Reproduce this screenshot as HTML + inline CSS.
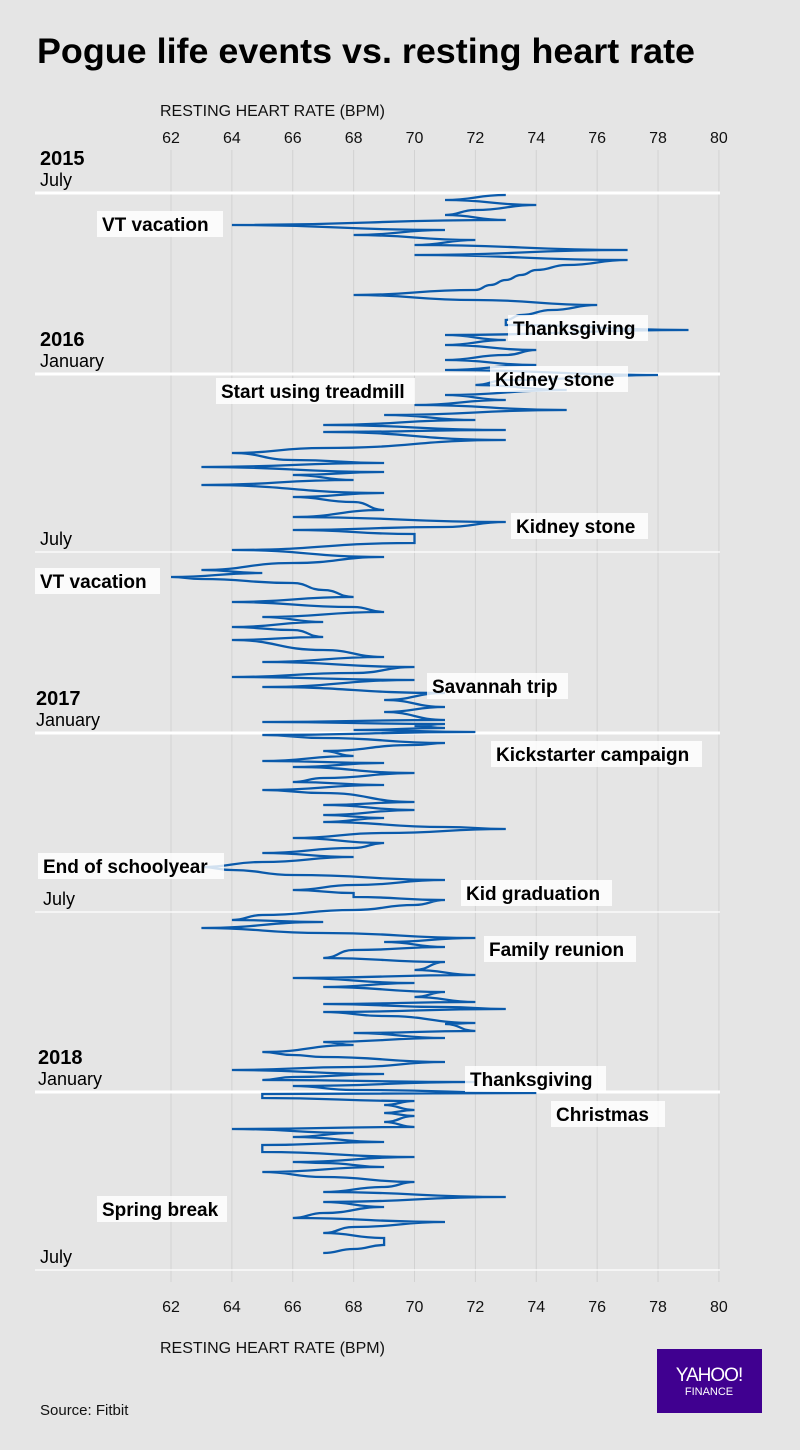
<!DOCTYPE html>
<html><head><meta charset="utf-8">
<style>
body{margin:0;background:#e5e5e5;}
svg{display:block;font-family:"Liberation Sans",Arial,sans-serif;}
</style></head>
<body>
<svg id="chart" width="800" height="1450" viewBox="0 0 800 1450">
<rect x="0" y="0" width="800" height="1450" fill="#e5e5e5"/>
<text x="37" y="63" font-size="35" font-weight="bold" fill="#000" textLength="658" lengthAdjust="spacingAndGlyphs">Pogue life events vs. resting heart rate</text>
<g id="grid"></g>
<g id="hlines"></g>
<g id="ticks"></g>
<text x="160" y="116" font-size="16" fill="#111">RESTING HEART RATE (BPM)</text>
<text x="160" y="1353" font-size="16" fill="#111">RESTING HEART RATE (BPM)</text>
<g id="periods"></g>
<path id="line" fill="none" stroke="#0a5aab" stroke-width="2.3"/>
<g id="events"></g>
<rect x="657" y="1349" width="105" height="64" fill="#400090"/>
<text x="709" y="1381" font-size="19" fill="#fff" text-anchor="middle" letter-spacing="-1">YAHOO!</text>
<text x="709" y="1395" font-size="11" fill="#fff" text-anchor="middle">FINANCE</text>
<text x="40" y="1415" font-size="15" fill="#111">Source: Fitbit</text>
</svg>
<script>
const ticks = [62,64,66,68,70,72,74,76,78,80];
const periodLabels = [
  {year:"2015", month:"July", day:0},
  {year:"2016", month:"January", day:181},
  {year:"", month:"July", day:359},
  {year:"2017", month:"January", day:540},
  {year:"", month:"July", day:719},
  {year:"2018", month:"January", day:899},
  {year:"", month:"July", day:1077}
];
const days = [2,7,12,17,22,27,32,37,42,47,52,57,62,67,72,77,82,87,92,97,102,107,112,117,122,127,132,137,142,147,152,157,162,167,172,177,182,187,192,197,202,207,212,217,222,227,232,237,239,247,255,260,267,270,274,279,282,287,292,300,304,309,317,324,329,334,337,341,350,357,364,370,377,380,384,386,390,397,404,409,414,419,424,429,434,437,444,447,457,464,469,474,480,484,487,494,500,507,514,519,527,529,531,533,535,537,539,542,545,550,552,558,563,568,570,574,580,585,589,592,597,600,609,612,617,622,625,629,634,636,640,645,650,655,660,664,669,674,677,682,687,692,697,700,704,707,712,717,722,727,729,735,740,745,749,754,757,765,769,777,782,785,790,794,799,804,809,811,814,816,819,823,830,831,838,840,845,849,852,859,862,864,869,874,877,881,884,887,889,893,897,900,901,905,908,912,917,920,923,929,934,936,940,944,949,952,956,959,964,969,970,974,979,984,989,994,999,1004,1009,1014,1020,1025,1029,1034,1040,1045,1052,1056,1060,1065,1070,1074,1076];
const bpm = [73,71,74,72,71,73,64,71,68,72,70,77,70,77,75,74,73.5,73,72.5,72,68,72,76,74.5,73.5,73,73,79,71,73,71,74,73,71,74,71,78,73,72,75,71,73,70,75,69,72,67,73,67,73,67,64,66,69,63,69,66,68,63,69,66,68,69,66,73,71,66,70,70,64,69,66,63,65,62,63,66,67,68,64,68,69,65,67,64,66,67,64,67,69,65,70,68,64,70,65,71,69,71,69,71,65,71,70,71,68,72,65,67,71,70,67,68,65,69,66,70,67,66,69,65,67,70,67,70,67,69,67,71,73,69,66,69,68,65,68,65,63,64,66,71,68,66,68,68,71,70,68,65,64,67,63,67,72,69,71,68,67,71,70,72,66,70,67,71,70,72,67,71,73,67,69,72,71,72,68,71,67,68,65,66,67,71,68,64,69,66,65,72,66,68,74,65,65,70,69,70,69,70,69,70,64,68,66,69,65,65,65,70,66,67,69,65,67,70,69,67,73,67,69,67,66,71,68,67,69,69,68,67];

const svg = document.getElementById('chart');
const NS = 'http://www.w3.org/2000/svg';
const xs = v => 171 + (v - 62) * 30.44;
const ys = d => 193 + d * (1270 - 193) / 1077;

const grid = document.getElementById('grid');
const tickG = document.getElementById('ticks');
ticks.forEach(t => {
  const l = document.createElementNS(NS,'line');
  l.setAttribute('x1', xs(t)); l.setAttribute('x2', xs(t));
  l.setAttribute('y1', 150); l.setAttribute('y2', 1282);
  l.setAttribute('stroke', '#d2d2d2'); l.setAttribute('stroke-width', 1);
  
  
  grid.appendChild(l);
  [143, 1312].forEach((yy, i) => {
    const tx = document.createElementNS(NS,'text');
    tx.setAttribute('x', xs(t)); tx.setAttribute('y', yy);
    tx.setAttribute('font-size', 16); tx.setAttribute('text-anchor', 'middle'); tx.setAttribute('fill', '#111');
    tx.textContent = t;
    
    
    tickG.appendChild(tx);
  });
});

const hl = document.getElementById('hlines');
const per = document.getElementById('periods');
periodLabels.forEach((p, i) => {
  const y = ys(p.day);
  const l = document.createElementNS(NS,'line');
  l.setAttribute('x1', 35); l.setAttribute('x2', 720);
  l.setAttribute('y1', y); l.setAttribute('y2', y);
  l.setAttribute('stroke', '#fff'); l.setAttribute('stroke-width', p.year ? 3 : 1.2);
  
  
  hl.appendChild(l);
  const lx = (i === 3 || i === 4) ? 36 : (i === 5 ? 38 : 40);
  if (p.year) {
    const t = document.createElementNS(NS,'text');
    t.setAttribute('x', lx); t.setAttribute('y', y - 28);
    t.setAttribute('font-size', 20); t.setAttribute('font-weight', 'bold');
    t.textContent = p.year;
    
    
    per.appendChild(t);
  }
  const m = document.createElementNS(NS,'text');
  m.setAttribute('x', i === 4 ? 43 : lx); m.setAttribute('y', y - 7);
  m.setAttribute('font-size', 18);
  m.textContent = p.month;
  
  
  per.appendChild(m);
});

let d = '';
for (let i = 0; i < days.length; i++) {
  const x = xs(bpm[i]), y = ys(days[i]);
  if (i === 0) { d += 'M' + x.toFixed(1) + ',' + y.toFixed(1); continue; }
  const x0 = xs(bpm[i-1]), y0 = ys(days[i-1]);
  const mx = (x0 + x) / 2;
  d += 'C' + mx.toFixed(1) + ',' + y0.toFixed(1) + ' ' + mx.toFixed(1) + ',' + y.toFixed(1) + ' ' + x.toFixed(1) + ',' + y.toFixed(1);
}
document.getElementById('line').setAttribute('d', d);

const events = [
  ["VT vacation",97,211,126],["Thanksgiving",508,315,140],["Kidney stone",490,366,138],
  ["Start using treadmill",216,378,199],["Kidney stone",511,513,137],["VT vacation",35,568,125],
  ["Savannah trip",427,673,141],["Kickstarter campaign",491,741,211],["End of schoolyear",38,853,186],
  ["Kid graduation",461,880,151],["Family reunion",484,936,152],["Thanksgiving",465,1066,141],
  ["Christmas",551,1101,114],["Spring break",97,1196,130]
];
const ev = document.getElementById('events');
events.forEach((e, i) => {
  const g = document.createElementNS(NS,'g');
  
  
  const r = document.createElementNS(NS,'rect');
  r.setAttribute('x', e[1]); r.setAttribute('y', e[2]); r.setAttribute('width', e[3]); r.setAttribute('height', 26);
  r.setAttribute('fill', 'rgba(255,255,255,0.82)');
  const t = document.createElementNS(NS,'text');
  t.setAttribute('x', e[1] + 5); t.setAttribute('y', e[2] + 20);
  t.setAttribute('font-size', 19); t.setAttribute('font-weight', 'bold');
  t.textContent = e[0];
  g.appendChild(r); g.appendChild(t);
  ev.appendChild(g);
});
</script>
</body></html>
